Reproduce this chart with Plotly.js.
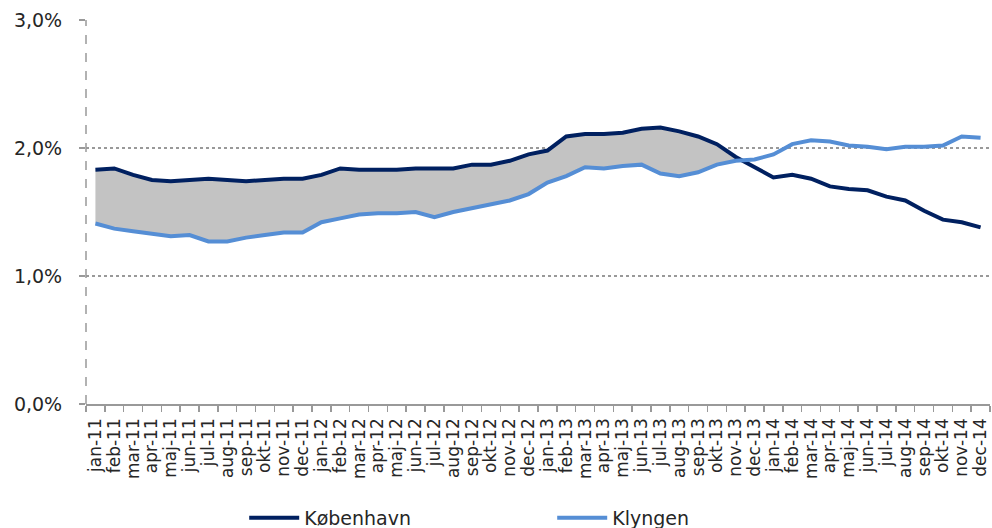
<!DOCTYPE html>
<html><head><meta charset="utf-8">
<script src="https://cdn.plot.ly/plotly-3.0.1.min.js"></script>
<style>html,body{margin:0;padding:0;background:#fff}#chart{width:992px;height:528px}</style>
</head><body><div id="chart"></div>
<script>
const categories = [
 'jan-11','feb-11','mar-11','apr-11','maj-11','jun-11','jul-11','aug-11','sep-11','okt-11','nov-11','dec-11',
 'jan-12','feb-12','mar-12','apr-12','maj-12','jun-12','jul-12','aug-12','sep-12','okt-12','nov-12','dec-12',
 'jan-13','feb-13','mar-13','apr-13','maj-13','jun-13','jul-13','aug-13','sep-13','okt-13','nov-13','dec-13',
 'jan-14','feb-14','mar-14','apr-14','maj-14','jun-14','jul-14','aug-14','sep-14','okt-14','nov-14','dec-14'];
const kobenhavn = [
 1.83,1.84,1.79,1.75,1.74,1.75,1.76,1.75,1.74,1.75,1.76,1.76,
 1.79,1.84,1.83,1.83,1.83,1.84,1.84,1.84,1.87,1.87,1.90,1.95,
 1.98,2.09,2.11,2.11,2.12,2.15,2.16,2.13,2.09,2.03,1.93,1.85,
 1.77,1.79,1.76,1.70,1.68,1.67,1.62,1.59,1.51,1.44,1.42,1.38];
const klyngen = [
 1.41,1.37,1.35,1.33,1.31,1.32,1.27,1.27,1.30,1.32,1.34,1.34,
 1.42,1.45,1.48,1.49,1.49,1.50,1.46,1.50,1.53,1.56,1.59,1.64,
 1.73,1.78,1.85,1.84,1.86,1.87,1.80,1.78,1.81,1.87,1.90,1.91,
 1.95,2.03,2.06,2.05,2.02,2.01,1.99,2.01,2.01,2.02,2.09,2.08];
const seriesNames = ['København','Klyngen'];
const seriesColors = ['#002060','#558ED5'];
const yTickVals = [0,1,2,3];
const yTickLabels = ['0,0%','1,0%','2,0%','3,0%'];

const n = categories.length;
const idx = categories.map((_, i) => i);

// gap band between the two lines where København is above Klyngen
const fx = [], fLo = [], fHi = [];
for (let i = 0; i < n; i++) {
  fx.push(i); fLo.push(klyngen[i]); fHi.push(Math.max(kobenhavn[i], klyngen[i]));
  if (i < n - 1) {
    const d0 = kobenhavn[i] - klyngen[i], d1 = kobenhavn[i+1] - klyngen[i+1];
    if (d0 * d1 < 0) {
      const t = d0 / (d0 - d1);
      const yc = klyngen[i] + t * (klyngen[i+1] - klyngen[i]);
      fx.push(i + t); fLo.push(yc); fHi.push(yc);
    }
  }
}
const boundaries = [];
for (let i = 0; i <= n; i++) boundaries.push(i - 0.5);

const font = 'DejaVu Sans, sans-serif';
const traces = [
  {x: fx, y: fLo, mode: 'lines', line: {width: 0, color: 'rgba(0,0,0,0)'}, showlegend: false, hoverinfo: 'skip'},
  {x: fx, y: fHi, mode: 'lines', fill: 'tonexty', fillcolor: '#C3C3C3', line: {width: 0, color: 'rgba(0,0,0,0)'}, showlegend: false, hoverinfo: 'skip'},
  {x: idx, y: kobenhavn, name: seriesNames[0], mode: 'lines', line: {color: seriesColors[0], width: 4}},
  {x: idx, y: klyngen, name: seriesNames[1], mode: 'lines', line: {color: seriesColors[1], width: 4}}
];
const layout = {
  width: 992, height: 528,
  margin: {l: 86, r: 2, t: 20, b: 124, autoexpand: false},
  paper_bgcolor: '#fff', plot_bgcolor: '#fff',
  font: {family: font, color: '#262626'},
  showlegend: true,
  legend: {orientation: 'h', traceorder: 'normal', x: 0.175, xanchor: 'left',
           yref: 'container', y: 0.019, yanchor: 'middle', itemwidth: 50,
           entrywidth: 243, entrywidthmode: 'pixels', font: {size: 19, family: font, color: '#262626'}},
  xaxis: {
    range: [-0.5, n - 0.5], tickmode: 'array', tickvals: idx, ticktext: categories,
    tickangle: -90, ticks: '', ticklabelstandoff: 6, automargin: false,
    tickfont: {size: 17, family: font, color: '#262626'},
    showgrid: false, zeroline: false, showline: true, linecolor: '#999', linewidth: 1.5,
    minor: {tickmode: 'array', tickvals: boundaries, ticks: 'outside', ticklen: 6, tickcolor: '#999', tickwidth: 1.5, showgrid: false},
    fixedrange: true
  },
  yaxis: {
    range: [0, 3], tickmode: 'array', tickvals: yTickVals, ticktext: yTickLabels,
    ticks: 'outside', ticklen: 6, tickcolor: '#999', tickwidth: 1.5, ticklabelstandoff: 13, automargin: false,
    tickfont: {size: 19, family: font, color: '#262626'},
    showgrid: true, gridcolor: '#999', griddash: 'dot', gridwidth: 1.5,
    zeroline: false, showline: false, fixedrange: true
  },
  shapes: [{type: 'line', xref: 'paper', yref: 'paper', x0: 0, x1: 0, y0: 0, y1: 1,
            line: {color: '#999', width: 1.5, dash: 'dash'}, layer: 'above'}]
};
Plotly.newPlot('chart', traces, layout, {staticPlot: true});
</script>
</body></html>
